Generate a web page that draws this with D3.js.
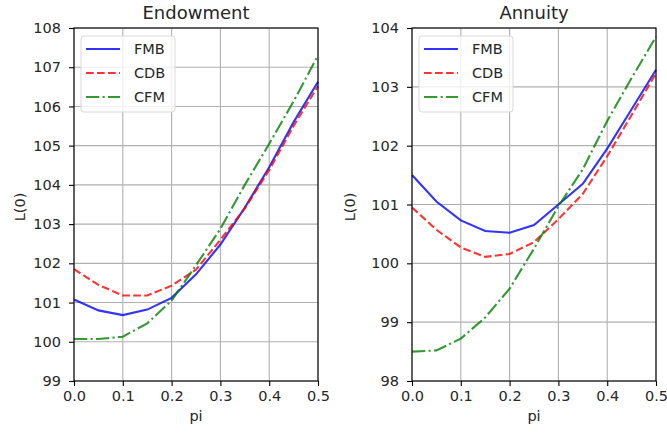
<!DOCTYPE html>
<html>
<head>
<meta charset="utf-8">
<script src="https://cdn.jsdelivr.net/npm/d3@7"></script>
<style>
  body { margin: 0; background: #fff; }
  svg text { font-family: "DejaVu Sans", sans-serif; fill: #262626; }
</style>
</head>
<body>
<div id="container"></div>
<script>
// data we work with
const pi = [0, 0.05, 0.1, 0.15, 0.2, 0.25, 0.3, 0.35, 0.4, 0.45, 0.5];

const endowFMB = [101.08, 100.8, 100.68, 100.82, 101.12, 101.72, 102.48, 103.42, 104.45, 105.6, 106.63];
const endowCDB = [101.85, 101.45, 101.18, 101.18, 101.43, 101.84, 102.6, 103.4, 104.38, 105.5, 106.52];
const endowCFM = [100.07, 100.07, 100.13, 100.47, 101.05, 101.95, 102.88, 104.0, 105.05, 106.13, 107.3];

const annFMB = [101.5, 101.05, 100.73, 100.55, 100.52, 100.65, 101.0, 101.35, 101.95, 102.62, 103.29];
const annCDB = [100.95, 100.57, 100.27, 100.11, 100.16, 100.36, 100.75, 101.18, 101.82, 102.52, 103.23];
const annCFM = [98.5, 98.52, 98.72, 99.08, 99.57, 100.25, 100.97, 101.6, 102.42, 103.15, 103.85];

const seriesNames = ["FMB", "CDB", "CFM"];
const xTicks = [0, 0.1, 0.2, 0.3, 0.4, 0.5];
const endowTicks = [99, 100, 101, 102, 103, 104, 105, 106, 107, 108];
const annTicks = [98, 99, 100, 101, 102, 103, 104];

const w = 667;
const h = 433;
let viz = d3.select("#container")
  .append("svg")
    .attr("width", w)
    .attr("height", h)
;

const styles = [
  {color: "#0000ff", dash: null},
  {color: "#ff0000", dash: "7.7,3.3"},
  {color: "#008000", dash: "13.3,3.3,2.1,3.3"}
];

function drawPanel(left, right, title, yDomain, yTicks, series, ylabX){
  const top = 28, bottom = 381;
  let xScale = d3.scaleLinear().domain([0, 0.5]).range([left, right]);
  let yScale = d3.scaleLinear().domain(yDomain).range([bottom, top]);
  let g = viz.append("g");

  // grid
  g.selectAll(".gx").data(xTicks).enter().append("line")
    .attr("x1", d => xScale(d)).attr("x2", d => xScale(d))
    .attr("y1", top).attr("y2", bottom)
    .attr("stroke", "#b0b0b0").attr("stroke-width", 1.1);
  g.selectAll(".gy").data(yTicks).enter().append("line")
    .attr("x1", left).attr("x2", right)
    .attr("y1", d => yScale(d)).attr("y2", d => yScale(d))
    .attr("stroke", "#b0b0b0").attr("stroke-width", 1.1);

  // lines
  let lineMaker = d3.line()
    .x((d, i) => xScale(pi[i]))
    .y(d => yScale(d));
  series.forEach((s, i) => {
    g.append("path")
      .datum(s)
      .attr("d", lineMaker)
      .attr("fill", "none")
      .attr("stroke", styles[i].color)
      .attr("stroke-opacity", 0.8)
      .attr("stroke-width", 2.1)
      .attr("stroke-dasharray", styles[i].dash);
  });

  // axes
  let xAxis = d3.axisBottom(xScale).tickValues(xTicks).tickFormat(d3.format(".1f")).tickSizeInner(5).tickSizeOuter(0).tickPadding(5);
  let yAxis = d3.axisLeft(yScale).tickValues(yTicks).tickFormat(d3.format("d")).tickSizeInner(5).tickSizeOuter(0).tickPadding(8);
  let gx = g.append("g").attr("transform", "translate(0," + bottom + ")").call(xAxis);
  let gy = g.append("g").attr("transform", "translate(" + left + ",0)").call(yAxis);
  [gx, gy].forEach(a => {
    a.select(".domain").remove();
    a.selectAll("line").attr("stroke", "#000").attr("stroke-width", 1.1);
    a.selectAll("text").attr("font-size", 14.5).attr("fill", "#262626").attr("font-family", "DejaVu Sans");
  });

  // frame
  g.append("rect")
    .attr("x", left).attr("y", top)
    .attr("width", right - left).attr("height", bottom - top)
    .attr("fill", "none").attr("stroke", "#000").attr("stroke-width", 1.1);

  // labels
  g.append("text").attr("x", (left + right) / 2).attr("y", 19)
    .attr("text-anchor", "middle").attr("font-size", 18).text(title);
  g.append("text").attr("x", (left + right) / 2).attr("y", 421)
    .attr("text-anchor", "middle").attr("font-size", 14.5).text("pi");
  g.append("text")
    .attr("transform", "translate(" + ylabX + ",207) rotate(-90)")
    .attr("text-anchor", "middle").attr("font-size", 14.5).text("L(0)");

  // legend
  let lg = g.append("g").attr("transform", "translate(" + (left + 7) + ",36)");
  lg.append("rect").attr("width", 94).attr("height", 76).attr("rx", 3)
    .attr("fill", "#fff").attr("fill-opacity", 0.8)
    .attr("stroke", "#d9d9d9").attr("stroke-width", 1);
  seriesNames.forEach((name, i) => {
    let y = 13 + i * 24;
    lg.append("line").attr("x1", 5).attr("x2", 39).attr("y1", y).attr("y2", y)
      .attr("stroke", styles[i].color).attr("stroke-opacity", 0.8)
      .attr("stroke-width", 2.1).attr("stroke-dasharray", styles[i].dash);
    lg.append("text").attr("x", 53).attr("y", y + 5).attr("font-size", 14.5).text(name);
  });
}

drawPanel(74, 318, "Endowment", [99, 108], endowTicks, [endowFMB, endowCDB, endowCFM], 25);
drawPanel(412, 656, "Annuity", [98, 104], annTicks, [annFMB, annCDB, annCFM], 355);
</script>
</body>
</html>
